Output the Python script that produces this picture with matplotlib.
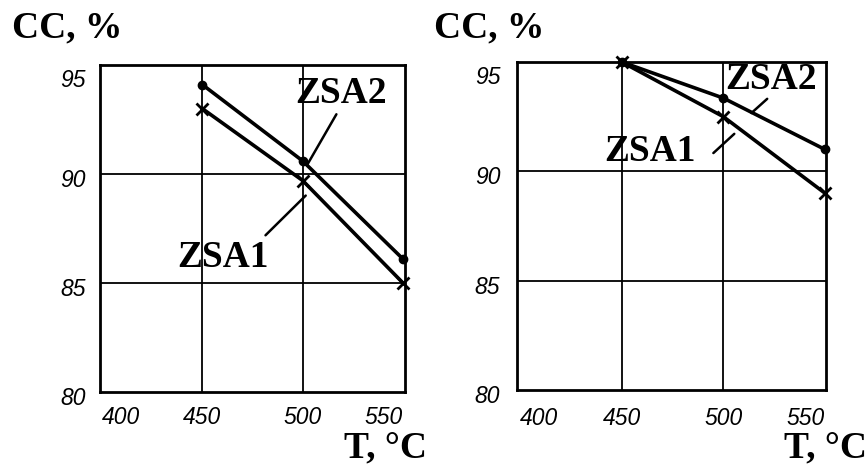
import matplotlib.pyplot as plt
from matplotlib.transforms import ScaledTranslation

# Temperatures, deg C
temps = [450, 500, 550]

# Conversion, %
zsa2_left = [94.1, 90.6, 86.1]
zsa1_left = [93.0, 89.7, 85.0]
zsa2_right = [95.0, 93.35, 91.0]
zsa1_right = [95.0, 92.5, 89.0]

x_ticks = [400, 450, 500, 550]
y_ticks = [80, 85, 90, 95]

serif = ["Liberation Serif", "DejaVu Serif"]
tickfont = ["Liberation Sans Narrow", "Liberation Sans", "DejaVu Sans"]

fig = plt.figure(figsize=(8.68, 4.66), dpi=100)
ax1 = fig.add_axes([0.1152, 0.1588, 0.3514, 0.7017])
ax2 = fig.add_axes([0.5956, 0.163, 0.356, 0.704])


def style_axes(ax, xlim, ypad):
    ax.set_xlim(*xlim)
    ax.set_ylim(80, 95)
    for s in ax.spines.values():
        s.set_linewidth(2)
    ax.set_xticks(x_ticks)
    ax.set_yticks(y_ticks)
    ax.set_xticklabels([str(t) for t in x_ticks], fontsize=16.5, style="italic", family=tickfont)
    ax.set_yticklabels([str(t) for t in y_ticks], fontsize=16.5, style="italic", family=tickfont)
    ax.tick_params(length=0, pad=ypad)
    xl = ax.get_xticklabels()
    xl[0].set_ha("left")
    xl[-1].set_ha("right")
    yl = ax.get_yticklabels()
    yl[-1].set_va("top")
    for t in yl:
        t.set_transform(t.get_transform() + ScaledTranslation(0, -3 / 72, fig.dpi_scale_trans))
    for v in [450, 500]:
        ax.axvline(v, color="black", lw=1.3, zorder=1)
    for v in [85, 90]:
        ax.axhline(v, color="black", lw=1.3, zorder=1)


style_axes(ax1, (399, 551), 10)
style_axes(ax2, (398.5, 550.5), 12)

for ax, z2, z1 in [(ax1, zsa2_left, zsa1_left), (ax2, zsa2_right, zsa1_right)]:
    ax.plot(temps, z1, color="black", lw=2.6, marker="x", ms=9, mew=2, zorder=3, clip_on=False)
    ax.plot(temps, z2, color="black", lw=2.6, marker="o", ms=6, zorder=4, clip_on=False)

lab = dict(fontsize=27, fontweight="bold", family=serif, ha="center", va="center")
ax1.text(519, 93.7, "ZSA2", **lab)
ax1.text(460.5, 86.15, "ZSA1", **lab)
ax2.text(523.6, 94.18, "ZSA2", **lab)
ax2.text(464, 90.9, "ZSA1", **lab)

lead = dict(arrowstyle="-", color="black", lw=1.8)
ax1.annotate("", xy=(501.5, 90.3), xytext=(517.5, 92.85), arrowprops=lead)
ax1.annotate("", xy=(502.5, 89.1), xytext=(480.5, 87.1), arrowprops=lead)
ax2.annotate("", xy=(512.8, 92.58), xytext=(522.6, 93.4), arrowprops=lead)
ax2.annotate("", xy=(506.4, 91.8), xytext=(494.1, 90.75), arrowprops=lead)

title = dict(fontsize=27, fontweight="bold", family=serif, va="center")
fig.text(12 / 868, 1 - 28 / 466, "CC, %", ha="left", **title)
fig.text(434 / 868, 1 - 28 / 466, "CC, %", ha="left", **title)
fig.text(427 / 868, 1 - 448 / 466, "T, °C", ha="right", **title)
fig.text(867 / 868, 1 - 448 / 466, "T, °C", ha="right", **title)

plt.savefig("out.png", dpi=100)
